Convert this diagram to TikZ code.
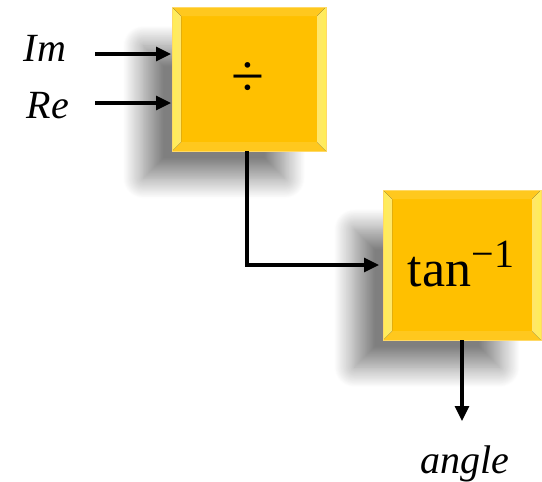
\documentclass[tikz,border=0pt]{standalone}
\usepackage{fontspec}
\setmainfont{Liberation Serif}
\usetikzlibrary{arrows.meta,shadows.blur}
\definecolor{gold}{HTML}{FFC000}
\definecolor{bevelc}{HTML}{FFEE55}
\definecolor{bevelin}{HTML}{FFF79A}
\definecolor{edgec}{HTML}{FFD966}
\definecolor{topc}{HTML}{FFC81E}
\begin{document}
\begin{tikzpicture}[x=1pt,y=-1pt,
  blk/.style={fill=gold, draw=edgec, line width=0.8pt, inner sep=0pt, outer sep=0pt,
    blur shadow={shadow xshift=-38pt, shadow yshift=-36pt, shadow blur radius=22pt,
      shadow opacity=50, shadow blur steps=24, shadow scale=0.92}},
  arr/.style={line width=3.2pt, -{Triangle[length=15pt,width=14pt]}},
  lbl/.style={font=\fontsize{40}{46}\selectfont\itshape, inner sep=0pt, anchor=base},
]
\useasboundingbox (0,0) rectangle (542,482);
% blocks
\node[blk, minimum width=154pt, minimum height=144pt] (d) at (249,79) {};
\node[blk, minimum width=158pt, minimum height=150pt] (t) at (462,265) {};
% bevels
\foreach \b/\s in {d/9,t/9}{
  \fill[topc] (\b.north west) -- ([shift={(\s,\s)}]\b.north west) -- ([shift={(-\s,\s)}]\b.north east) -- (\b.north east) -- cycle;
  \fill[topc] (\b.south west) -- ([shift={(\s,-\s)}]\b.south west) -- ([shift={(-\s,-\s)}]\b.south east) -- (\b.south east) -- cycle;
  \fill[left color=bevelc, right color=bevelin!70!gold] (\b.north west) -- ([shift={(\s,\s)}]\b.north west) -- ([shift={(\s,-\s)}]\b.south west) -- (\b.south west) -- cycle;
  \fill[left color=bevelin!70!gold, right color=bevelc] (\b.north east) -- ([shift={(-\s,\s)}]\b.north east) -- ([shift={(-\s,-\s)}]\b.south east) -- (\b.south east) -- cycle;
  \draw[edgec, line width=0.8pt] (\b.north west) rectangle (\b.south east);
}
% texts
\node[inner sep=0pt, font=\fontsize{60}{66}\selectfont] (dv) at (248,80) {÷};
\node[inner sep=0pt, anchor=base, font=\fontsize{52}{60}\selectfont] (tn) at (461,286)
  {tan\raisebox{19pt}{\fontsize{40}{44}\selectfont −1}};
\node[lbl] (im) at (45,61) {Im};
\node[lbl] (re) at (48,118) {Re};
\node[lbl] (ang) at (465,473) {angle};
% connectors
\coordinate (imS) at (95,54);
\coordinate (reS) at (95,103);
\coordinate (angT) at (462,421);
\draw[arr, shorten >=1pt] (imS) -- (imS -| d.west);
\draw[arr, shorten >=1pt] (reS) -- (reS -| d.west);
\draw[arr, shorten >=4pt] ([xshift=-2pt]d.south) |- (t.west);
\draw[arr] (t.south) -- (angT);
\end{tikzpicture}
\end{document}
